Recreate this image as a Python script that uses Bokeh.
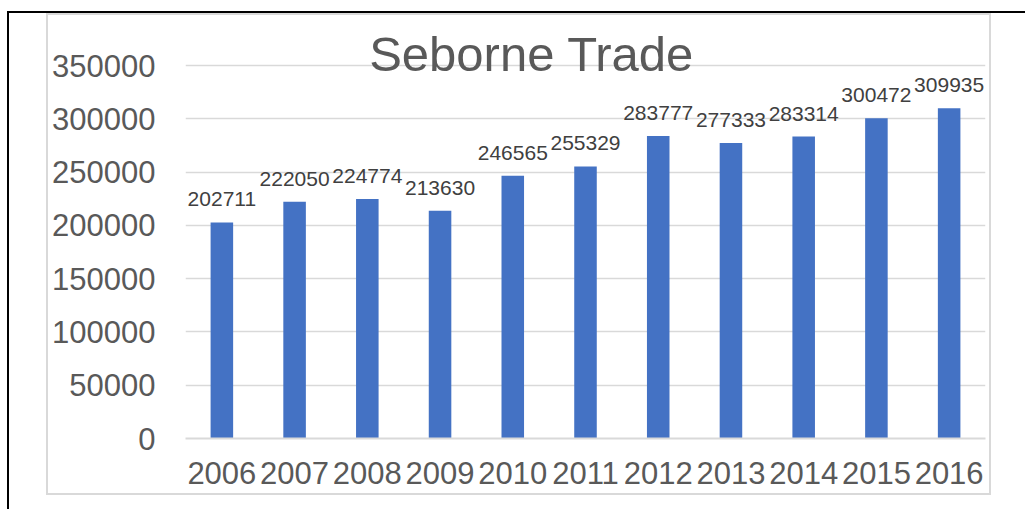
from bokeh.plotting import figure
from bokeh.models import ColumnDataSource, Range1d, FixedTicker, Label, NumeralTickFormatter
from bokeh.layouts import column
from bokeh.core.properties import value
from bokeh.embed import file_html
from bokeh.resources import INLINE

# ---- data ----
years = ["2006", "2007", "2008", "2009", "2010", "2011", "2012", "2013", "2014", "2015", "2016"]
trade = [202711, 222050, 224774, 213630, 246565, 255329, 283777, 277333, 283314, 300472, 309935]
y_ticks = [0, 50000, 100000, 150000, 200000, 250000, 300000, 350000]
title_text = "Seborne Trade"

FONT = "Liberation Sans"

source = ColumnDataSource(dict(year=years, trade=trade, label=[str(v) for v in trade]))

p = figure(x_range=years, y_range=Range1d(0, 382843),
           width=945, height=482,
           output_backend="svg", toolbar_location=None,
           min_border_left=137, min_border_right=8,
           min_border_top=15, min_border_bottom=59)
p.outline_line_color = None
p.background_fill_color = "white"
p.border_fill_color = "white"

p.vbar(x="year", top="trade", width=0.31, source=source,
       fill_color="#4472C4", line_color=None)

p.text(x="year", y="trade", text="label", source=source,
       text_align="center", text_baseline="alphabetic", y_offset=-23,
       text_font=value(FONT), text_font_size="21px", text_color="#404040")

# grid
p.xgrid.grid_line_color = None
p.ygrid.grid_line_color = "#d9d9d9"
p.ygrid.grid_line_width = 1.5
p.ygrid.ticker = FixedTicker(ticks=y_ticks)

# y axis
p.yaxis.ticker = FixedTicker(ticks=y_ticks)
p.yaxis.formatter = NumeralTickFormatter(format="0")
p.yaxis.axis_line_color = None
p.yaxis.major_tick_line_color = None
p.yaxis.minor_tick_line_color = None
p.yaxis.major_tick_out = 0
p.yaxis.major_tick_in = 0
p.yaxis.major_label_standoff = 30
p.yaxis.major_label_text_font = FONT
p.yaxis.major_label_text_font_size = "31px"
p.yaxis.major_label_text_color = "#595959"

# x axis
p.xaxis.axis_line_color = "#d9d9d9"
p.xaxis.axis_line_width = 2
p.xaxis.major_tick_line_color = None
p.xaxis.minor_tick_line_color = None
p.xaxis.major_tick_out = 0
p.xaxis.major_tick_in = 0
p.xaxis.major_label_standoff = 23
p.xaxis.major_label_text_font = FONT
p.xaxis.major_label_text_font_size = "31px"
p.xaxis.major_label_text_color = "#595959"
p.x_range.range_padding = 0

# title drawn over the plot area
p.add_layout(Label(x=4.76, y=361260, text=title_text, text_align="center",
                   text_baseline="alphabetic", text_font=FONT,
                   text_font_size="49px", text_color="#595959"))

p.styles = {"border": "2px solid #d9d9d9"}

layout = column(p, styles={"border-top": "2px solid black",
                           "border-left": "2px solid black",
                           "padding-left": "37px",
                           "padding-top": "0px",
                           "margin-top": "11px",
                           "margin-left": "7px",
                           "min-width": "1020px",
                           "padding-bottom": "14px"})

open("out.html", "w").write(file_html(layout, INLINE))
